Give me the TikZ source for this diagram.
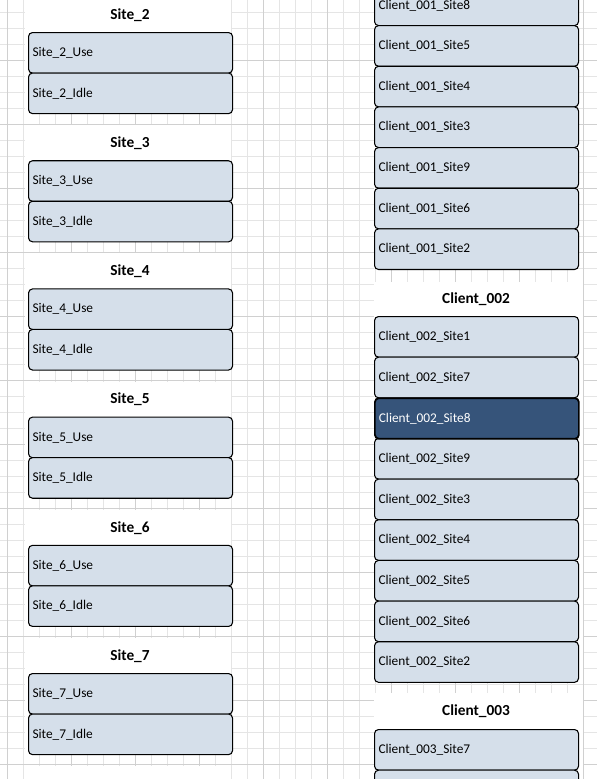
\documentclass[tikz,border=0pt]{standalone}
\usepackage{fontspec}
\setmainfont{Carlito}
\definecolor{boxfill}{HTML}{D5DFEA}
\definecolor{selfill}{HTML}{36547A}
\definecolor{minorgrid}{HTML}{E5E5E5}
\definecolor{majorgrid}{HTML}{D0D0D0}
\tikzset{
  itembox/.style={draw=black, line width=0.8pt, fill=boxfill, rounded corners=3pt,
    minimum width=153pt, minimum height=30.45pt, text width=147pt, inner xsep=3pt,
    inner ysep=0pt, align=left, anchor=north west, font=\fontsize{10}{12}\selectfont},
  selbox/.style={itembox, fill=selfill, text=white, line width=1.3pt},
  grouptitle/.style={font=\fontsize{11.5}{14}\selectfont\bfseries, inner sep=0pt},
  panel/.style={fill=white, draw=none},
  minorline/.style={draw=minorgrid, line width=0.75pt},
  majorline/.style={draw=majorgrid, line width=0.75pt},
}
\begin{document}
\begin{tikzpicture}[x=0.75pt, y=-0.75pt]
\useasboundingbox (0,0) rectangle (597,779);
\clip (0,0) rectangle (597,779);
\fill[white] (0,0) rectangle (597,779);
% grid
\foreach \i in {0,...,37} \draw[minorline] ({7.3+16*\i},0) -- ({7.3+16*\i},779);
\foreach \j in {0,...,48} \draw[minorline] (0,{-3.7+16*\j}) -- (597,{-3.7+16*\j});
\foreach \i in {0,...,9} \draw[majorline] ({7.3+64*\i},0) -- ({7.3+64*\i},779);
\foreach \j in {0,...,12} \draw[majorline] (0,{-3.7+64*\j}) -- (597,{-3.7+64*\j});
% left groups
\foreach \k in {0,...,5}{
  \pgfmathsetmacro\o{128.2*\k}
  \pgfmathtruncatemacro\s{\k+2}
  \fill[panel] (24.5,{-3+\o}) rectangle (231,{113+\o});
  \node[grouptitle] (site\s title) at (130,{15+\o}) {Site\_\s};
  \node[itembox] (site\s use) at (28,{32+\o}) {Site\_\s\_Use};
  \node[itembox] (site\s idle) at (28,{72.5+\o}) {Site\_\s\_Idle};
}
\fill[panel] (24.5,766) rectangle (231,790);
% right column panels
\fill[panel] (374,-20) rectangle (578,269);
\fill[panel] (374,282) rectangle (583,682);
\fill[panel] (374,693) rectangle (583,790);
% Client_001
\node[itembox] (c1s8) at (374,-15.55) {Client\_001\_Site8};
\node[itembox] (c1s5) at (374,25.1) {Client\_001\_Site5};
\node[itembox] (c1s4) at (374,65.75) {Client\_001\_Site4};
\node[itembox] (c1s3) at (374,106.4) {Client\_001\_Site3};
\node[itembox] (c1s9) at (374,147.05) {Client\_001\_Site9};
\node[itembox] (c1s6) at (374,187.7) {Client\_001\_Site6};
\node[itembox] (c1s2) at (374,228.35) {Client\_001\_Site2};
% Client_002
\node[grouptitle] (c2title) at (476,299) {Client\_002};
\node[itembox] (c2s1) at (374,316) {Client\_002\_Site1};
\node[itembox] (c2s7) at (374,356.65) {Client\_002\_Site7};
\node[itembox] (c2s9) at (374,437.95) {Client\_002\_Site9};
\node[itembox] (c2s3) at (374,478.6) {Client\_002\_Site3};
\node[itembox] (c2s4) at (374,519.25) {Client\_002\_Site4};
\node[itembox] (c2s5) at (374,559.9) {Client\_002\_Site5};
\node[itembox] (c2s6) at (374,600.55) {Client\_002\_Site6};
\node[itembox] (c2s2) at (374,641.2) {Client\_002\_Site2};
\node[selbox] (c2s8) at (374,397.3) {Client\_002\_Site8};
% Client_003
\node[grouptitle] (c3title) at (476,711) {Client\_003};
\node[itembox] (c3s7) at (374,729) {Client\_003\_Site7};
\node[itembox] (c3next) at (374,769.65) {};
\end{tikzpicture}
\end{document}
